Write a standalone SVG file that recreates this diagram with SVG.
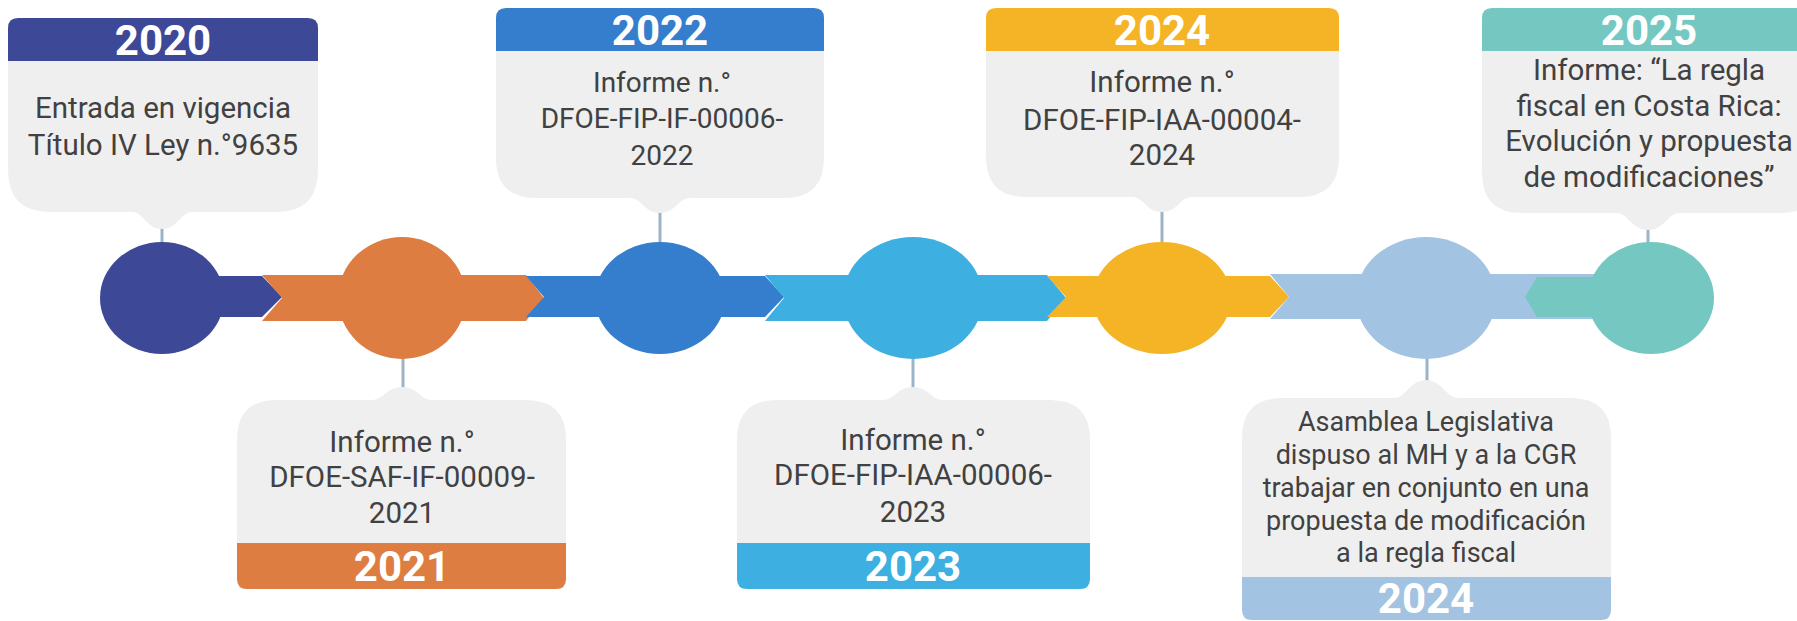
<svg xmlns="http://www.w3.org/2000/svg" width="1797" height="621" viewBox="0 0 1797 621">
<style>
.card{fill:#efefef}
.body{font-family:Roboto,"Liberation Sans",sans-serif;fill:#414141;text-anchor:middle}
.yr{font-family:Roboto,"Liberation Sans",sans-serif;font-weight:bold;font-size:42px;fill:#ffffff;text-anchor:middle}
.conn{stroke:#9db3c6;stroke-width:3;fill:none}
</style>
<rect width="1797" height="621" fill="#ffffff"/>
<g id="connectors">
<line class="conn" x1="162" y1="226" x2="162" y2="246"/>
<line class="conn" x1="403" y1="355" x2="403" y2="390"/>
<line class="conn" x1="660" y1="209" x2="660" y2="246"/>
<line class="conn" x1="913" y1="355" x2="913" y2="390"/>
<line class="conn" x1="1162" y1="208" x2="1162" y2="246"/>
<line class="conn" x1="1427" y1="355" x2="1427" y2="384"/>
<line class="conn" x1="1648" y1="226" x2="1648" y2="246"/>
</g>
<g id="node-2020">
<path class="card" d="M8,61 H318 V170 Q318,212 276,212 H193 C180,212 178,229 162,229 C146,229 144,212 132,212 H50 Q8,212 8,170 Z"/>
<path fill="#3d4896" d="M8,61 V28 Q8,18 18,18 H308 Q318,18 318,28 V61 Z"/>
<text class="yr" x="163" y="55">2020</text>
<text class="body" font-size="29.5"><tspan x="163" y="118">Entrada en vigencia</tspan><tspan x="163" y="155">Título IV Ley n.°9635</tspan></text>
<path fill="#3d4896" d="M162,276 H262 L282,297 L262,317 H162 Z"/>
<ellipse fill="#3d4896" cx="162" cy="298" rx="62" ry="56"/>
</g>
<g id="node-2021">
<path fill="#dd7d42" d="M262,275 H526 L544,298 L526,321 H262 L282,298 Z"/>
<ellipse fill="#dd7d42" cx="402" cy="298" rx="64" ry="61"/>
<path class="card" d="M237,543 V440 Q237,400 277,400 H372 C384,400 386,387 402,387 C418,387 420,400 432,400 H526 Q566,400 566,440 V543 Z"/>
<path fill="#dd7d42" d="M237,543 H566 V579 Q566,589 556,589 H247 Q237,589 237,579 Z"/>
<text class="body" font-size="29.5"><tspan x="402" y="452">Informe n.°</tspan><tspan x="402" y="487">DFOE-SAF-IF-00009-</tspan><tspan x="402" y="523">2021</tspan></text>
<text class="yr" x="402" y="581">2021</text>
</g>
<g id="node-2022">
<path fill="#347ecd" d="M526,276 H765 L784,297 L765,317 H526 L544,297 Z"/>
<ellipse fill="#347ecd" cx="660" cy="298" rx="65" ry="56"/>
<path class="card" d="M496,51 H824 V158 Q824,198 784,198 H690 C678,198 676,213 660,213 C644,213 642,198 630,198 H536 Q496,198 496,158 Z"/>
<path fill="#347ecd" d="M496,51 V18 Q496,8 506,8 H814 Q824,8 824,18 V51 Z"/>
<text class="yr" x="660" y="45">2022</text>
<text class="body" font-size="28"><tspan x="662" y="92">Informe n.°</tspan><tspan x="662" y="128">DFOE-FIP-IF-00006-</tspan><tspan x="662" y="165">2022</tspan></text>
</g>
<g id="node-2023">
<path fill="#3dafe0" d="M765,275 H1047 L1066,298 L1047,321 H765 L784,298 Z"/>
<ellipse fill="#3dafe0" cx="913" cy="298" rx="70" ry="61"/>
<path class="card" d="M737,543 V440 Q737,400 777,400 H883 C895,400 897,387 913,387 C929,387 931,400 943,400 H1050 Q1090,400 1090,440 V543 Z"/>
<path fill="#3dafe0" d="M737,543 H1090 V579 Q1090,589 1080,589 H747 Q737,589 737,579 Z"/>
<text class="body" font-size="29.5"><tspan x="913" y="450">Informe n.°</tspan><tspan x="913" y="485">DFOE-FIP-IAA-00006-</tspan><tspan x="913" y="522">2023</tspan></text>
<text class="yr" x="913" y="581">2023</text>
</g>
<g id="node-2024">
<path fill="#f4b425" d="M1047,276 H1270 L1289,297 L1270,317 H1047 L1066,297 Z"/>
<ellipse fill="#f4b425" cx="1162" cy="298" rx="69" ry="56"/>
<path class="card" d="M986,51 H1339 V157 Q1339,197 1299,197 H1192 C1180,197 1178,212 1162,212 C1146,212 1144,197 1132,197 H1026 Q986,197 986,157 Z"/>
<path fill="#f4b425" d="M986,51 V18 Q986,8 996,8 H1329 Q1339,8 1339,18 V51 Z"/>
<text class="yr" x="1162" y="45">2024</text>
<text class="body" font-size="29.5"><tspan x="1162" y="92">Informe n.°</tspan><tspan x="1162" y="130">DFOE-FIP-IAA-00004-</tspan><tspan x="1162" y="165">2024</tspan></text>
</g>
<g id="node-2024b">
<path fill="#a2c3e1" d="M1270,274 H1595 V319 H1270 L1289,297 Z"/>
<ellipse fill="#a2c3e1" cx="1426" cy="298" rx="70" ry="61"/>
<path class="card" d="M1242,577 V438 Q1242,398 1282,398 H1394 C1406,398 1410,380 1426,380 C1442,380 1446,398 1458,398 H1571 Q1611,398 1611,438 V577 Z"/>
<path fill="#a2c3e1" d="M1242,577 H1611 V610 Q1611,620 1601,620 H1252 Q1242,620 1242,610 Z"/>
<text class="body" font-size="27"><tspan x="1426" y="431">Asamblea Legislativa</tspan><tspan x="1426" y="464">dispuso al MH y a la CGR</tspan><tspan x="1426" y="497">trabajar en conjunto en una</tspan><tspan x="1426" y="530">propuesta de modificación</tspan><tspan x="1426" y="562">a la regla fiscal</tspan></text>
<text class="yr" x="1426" y="613">2024</text>
</g>
<g id="node-2025">
<path fill="#74c8c1" d="M1537,277 H1651 V317 H1537 L1525,297 Z"/>
<ellipse fill="#74c8c1" cx="1651" cy="298" rx="63" ry="56"/>
<path class="card" d="M1482,51 H1820 V173 Q1820,213 1780,213 H1680 C1667,213 1665,230 1648,230 C1631,230 1629,213 1616,213 H1522 Q1482,213 1482,173 Z"/>
<path fill="#74c8c1" d="M1482,51 V18 Q1482,8 1492,8 H1820 V51 Z"/>
<text class="yr" x="1649" y="45">2025</text>
<text class="body" font-size="29.5"><tspan x="1649" y="80">Informe: “La regla</tspan><tspan x="1649" y="116">fiscal en Costa Rica:</tspan><tspan x="1649" y="151">Evolución y propuesta</tspan><tspan x="1649" y="187">de modificaciones”</tspan></text>
</g>
</svg>
